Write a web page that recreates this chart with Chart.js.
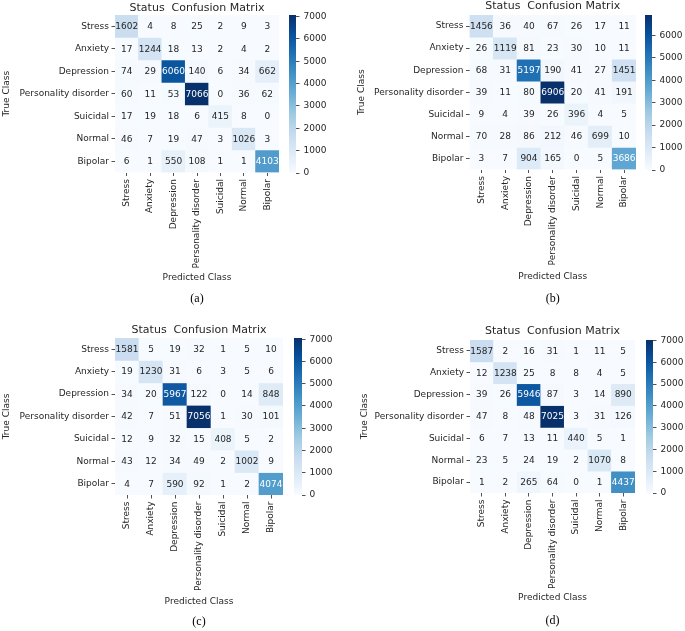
<!DOCTYPE html>
<html>
<head>
    <title>Status Confusion Matrix</title>
    <script src="https://cdn.jsdelivr.net/npm/chart.js"></script>
    <style>
        body { margin: 0; background: #fff; }
        #page { position: relative; width: 685px; height: 631px; background: #fff; overflow: hidden; }
        #page canvas { position: absolute; }
    </style>
</head>
<body>
    <div id="page"></div>

    <script>
        // classi (righe = vere, colonne = predette)
        const classes = ['Stress', 'Anxiety', 'Depression', 'Personality disorder', 'Suicidal', 'Normal', 'Bipolar'];

        const matrixA = [
            [1602, 4, 8, 25, 2, 9, 3],
            [17, 1244, 18, 13, 2, 4, 2],
            [74, 29, 6060, 140, 6, 34, 662],
            [60, 11, 53, 7066, 0, 36, 62],
            [17, 19, 18, 6, 415, 8, 0],
            [46, 7, 19, 47, 3, 1026, 3],
            [6, 1, 550, 108, 1, 1, 4103]
        ];
        const matrixB = [
            [1456, 36, 40, 67, 26, 17, 11],
            [26, 1119, 81, 23, 30, 10, 11],
            [68, 31, 5197, 190, 41, 27, 1451],
            [39, 11, 80, 6906, 20, 41, 191],
            [9, 4, 39, 26, 396, 4, 5],
            [70, 28, 86, 212, 46, 699, 10],
            [3, 7, 904, 165, 0, 5, 3686]
        ];
        const matrixC = [
            [1581, 5, 19, 32, 1, 5, 10],
            [19, 1230, 31, 6, 3, 5, 6],
            [34, 20, 5967, 122, 0, 14, 848],
            [42, 7, 51, 7056, 1, 30, 101],
            [12, 9, 32, 15, 408, 5, 2],
            [43, 12, 34, 49, 2, 1002, 9],
            [4, 7, 590, 92, 1, 2, 4074]
        ];
        const matrixD = [
            [1587, 2, 16, 31, 1, 11, 5],
            [12, 1238, 25, 8, 8, 4, 5],
            [39, 26, 5946, 87, 3, 14, 890],
            [47, 8, 48, 7025, 3, 31, 126],
            [6, 7, 13, 11, 440, 5, 1],
            [23, 5, 24, 19, 2, 1070, 8],
            [1, 2, 265, 64, 0, 1, 4437]
        ];
        const matrices = [matrixA, matrixB, matrixC, matrixD];
        const captions = ['(a)', '(b)', '(c)', '(d)'];
        const colorbarTicks = [0, 1000, 2000, 3000, 4000, 5000, 6000, 7000];

        // posizione di ogni pannello nella pagina (area della heatmap, colorbar, testi)
        const layouts = [
            { L: 115, T: 15, R: 279, B: 172.5, cbL: 289, cbR: 296, titleY: 8.5, predY: 277.5, capY: 298.5, trueX: 7 },
            { L: 469.5, T: 15, R: 636, B: 169.5, cbL: 645, cbR: 652, titleY: 6.5, predY: 277, capY: 298.5, trueX: 362 },
            { L: 115, T: 338, R: 283, B: 495, cbL: 294, cbR: 302, titleY: 330, predY: 602, capY: 622, trueX: 7 },
            { L: 470, T: 340, R: 635, B: 493, cbL: 646, cbR: 653, titleY: 331.5, predY: 598, capY: 621, trueX: 365 }
        ];

        const TEXT = '#262626';
        Chart.defaults.font.family = 'DejaVu Sans';
        Chart.defaults.font.size = 9;
        Chart.defaults.color = TEXT;

        // colormap "Blues" di matplotlib
        const BLUES = [[247, 251, 255], [222, 235, 247], [198, 219, 239], [158, 202, 225], [107, 174, 214],
                       [66, 146, 198], [33, 113, 181], [8, 81, 156], [8, 48, 107]];
        function blues(t) {
            t = Math.max(0, Math.min(1, t));
            const p = t * 8;
            const i = Math.min(7, Math.floor(p));
            const f = p - i;
            return BLUES[i].map((c, k) => Math.round(c + (BLUES[i + 1][k] - c) * f));
        }
        const css = (c) => `rgb(${c[0]},${c[1]},${c[2]})`;
        // come seaborn: testo bianco sulle celle scure
        function textColor(c) {
            const lin = c.map(v => { v /= 255; return v <= 0.03928 ? v / 12.92 : Math.pow((v + 0.055) / 1.055, 2.4); });
            const lum = 0.2126 * lin[0] + 0.7152 * lin[1] + 0.0722 * lin[2];
            return lum > 0.408 ? TEXT : '#ffffff';
        }

        const page = document.getElementById('page');
        function addCanvas(x, y, w, h) {
            const c = document.createElement('canvas');
            c.width = w; c.height = h;
            c.style.left = x + 'px'; c.style.top = y + 'px';
            c.style.width = w + 'px'; c.style.height = h + 'px';
            page.appendChild(c);
            return c;
        }

        function heatmap(matrix, caption, g) {
            const flat = matrix.flat();
            const vmin = Math.min(...flat), vmax = Math.max(...flat);
            const norm = v => (v - vmin) / (vmax - vmin);

            const x0 = Math.floor(g.trueX - 5.5);
            const padLeft = g.trueX - 4.5 - x0;
            const y0 = Math.floor(g.titleY - 8);
            const padTop = g.titleY - 5.5 - y0;
            const titleBottom = g.T - (g.titleY + 5.5);
            const xh = g.predY + 4.5 - g.B;
            const subTop = g.capY - 6 - (g.B + xh);
            const H = Math.ceil(g.capY + 6 + 3 - y0);
            const padBottom = y0 + H - (g.capY + 6);
            const W = Math.ceil(g.R + 10 - x0);
            const padRight = x0 + W - g.R;

            const cellLabels = {
                id: 'cellLabels',
                afterDatasetsDraw(chart) {
                    const ctx = chart.ctx;
                    ctx.save();
                    ctx.font = '9px "DejaVu Sans"';
                    ctx.textAlign = 'center';
                    ctx.textBaseline = 'middle';
                    matrix.forEach((row, i) => {
                        chart.getDatasetMeta(i).data.forEach((bar, j) => {
                            ctx.fillStyle = textColor(blues(norm(row[j])));
                            ctx.fillText(String(row[j]), bar.x, (bar.y + bar.base) / 2 + 0.5);
                        });
                    });
                    ctx.restore();
                }
            };

            new Chart(addCanvas(x0, y0, W, H), {
                type: 'bar',
                data: {
                    labels: classes,
                    datasets: matrix.map((row, i) => ({
                        data: row.map(() => [i, i + 1]),
                        backgroundColor: row.map(v => css(blues(norm(v)))),
                        borderWidth: 0,
                        grouped: false,
                        barPercentage: 1,
                        categoryPercentage: 1
                    }))
                },
                options: {
                    responsive: false,
                    animation: false,
                    events: [],
                    layout: { padding: { left: padLeft, right: padRight, top: padTop, bottom: padBottom } },
                    plugins: {
                        legend: { display: false },
                        tooltip: { enabled: false },
                        title: {
                            display: true,
                            text: 'Status  Confusion Matrix',
                            fullSize: false,
                            color: TEXT,
                            font: { size: 11, weight: 'normal', lineHeight: 1 },
                            padding: { top: 0, bottom: titleBottom }
                        },
                        subtitle: {
                            display: true,
                            position: 'bottom',
                            text: caption,
                            fullSize: false,
                            color: '#000',
                            font: { family: 'Liberation Serif', size: 12, lineHeight: 1 },
                            padding: { top: subTop, bottom: 0 }
                        }
                    },
                    scales: {
                        x: {
                            type: 'category',
                            offset: true,
                            grid: { offset: false, drawOnChartArea: false, tickLength: 3.5, color: TEXT, tickWidth: 0.8 },
                            border: { display: false },
                            ticks: { minRotation: 90, maxRotation: 90, autoSkip: false, padding: 3, color: TEXT },
                            title: { display: true, text: 'Predicted Class', padding: 0, color: TEXT, font: { size: 9, lineHeight: 1 } },
                            afterFit: s => { s.height = xh; }
                        },
                        y: {
                            type: 'linear',
                            min: 0,
                            max: classes.length,
                            reverse: true,
                            afterBuildTicks: ax => { ax.ticks = classes.map((_, i) => ({ value: i + 0.5 })); },
                            grid: { drawOnChartArea: false, tickLength: 3.5, color: TEXT, tickWidth: 0.8 },
                            border: { display: false },
                            ticks: { autoSkip: false, padding: 2.5, color: TEXT, callback: (v, i) => classes[i] },
                            title: { display: true, text: 'True Class', padding: 0, color: TEXT, font: { size: 9, lineHeight: 1 } },
                            afterFit: s => { s.width = g.L - x0 - padLeft; }
                        }
                    }
                },
                plugins: [cellLabels]
            });

            // colorbar
            const cw = g.cbR - g.cbL;
            const vpad = 10;
            new Chart(addCanvas(g.cbL, g.T - vpad, cw + 40, Math.round(g.B - g.T + 2 * vpad)), {
                type: 'bar',
                data: {
                    labels: [''],
                    datasets: [{
                        data: [[vmin, vmax]],
                        borderWidth: 0,
                        barPercentage: 1,
                        categoryPercentage: 1,
                        backgroundColor: (ctx) => {
                            const area = ctx.chart.chartArea;
                            if (!area) return css(BLUES[4]);
                            const grad = ctx.chart.ctx.createLinearGradient(0, area.bottom, 0, area.top);
                            BLUES.forEach((c, k) => grad.addColorStop(k / 8, css(c)));
                            return grad;
                        }
                    }]
                },
                options: {
                    responsive: false,
                    animation: false,
                    events: [],
                    layout: { padding: { left: 0, right: 0, top: vpad, bottom: vpad } },
                    plugins: { legend: { display: false }, tooltip: { enabled: false } },
                    scales: {
                        x: { display: false },
                        y: {
                            position: 'right',
                            min: vmin,
                            max: vmax,
                            afterBuildTicks: ax => { ax.ticks = colorbarTicks.filter(v => v <= vmax).map(v => ({ value: v })); },
                            grid: { drawOnChartArea: false, tickLength: 3.5, color: TEXT, tickWidth: 0.8 },
                            border: { display: false },
                            ticks: { padding: 4, color: TEXT, callback: v => String(v) },
                            afterFit: s => { s.width = 40; }
                        }
                    }
                }
            });
        }

        matrices.forEach((m, k) => heatmap(m, captions[k], layouts[k]));
    </script>
</body>
</html>
